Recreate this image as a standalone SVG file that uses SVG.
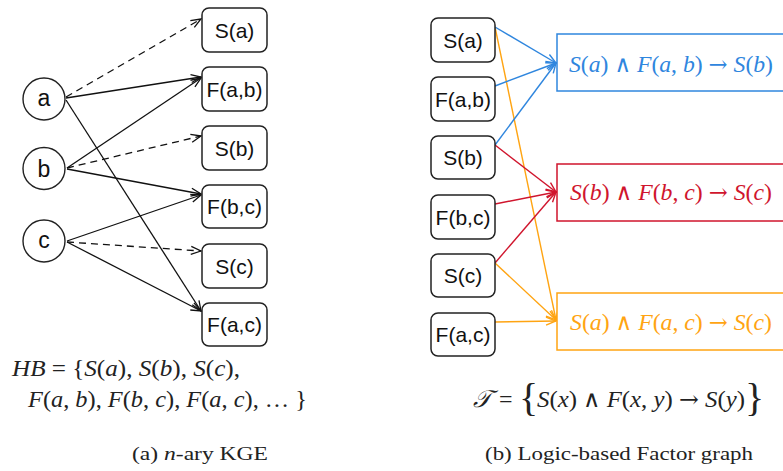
<svg xmlns="http://www.w3.org/2000/svg" width="783" height="471" viewBox="0 0 783 471">
<style>
.node rect{fill:#fff;stroke:#222;stroke-width:1.5}
.node circle{fill:#fff;stroke:#222;stroke-width:1.4}
.lbl{font-family:"Liberation Sans",Arial,sans-serif;font-size:21px;fill:#111;text-anchor:middle}
.math{font-family:"Liberation Serif","Times New Roman",serif;font-size:24px}
.it{font-style:italic}
.sym{font-family:"DejaVu Serif","DejaVu Sans",serif;font-style:normal;font-size:23px}
.cap{font-family:"Liberation Serif","Times New Roman",serif;font-size:18px;fill:#222}
.k{stroke:#111;stroke-width:1.3;fill:none}
.dash{stroke-dasharray:7,5}
.blue{stroke:#2f86de;stroke-width:1.4;fill:none}
.red{stroke:#d0152d;stroke-width:1.4;fill:none}
.orange{stroke:#ffa412;stroke-width:1.4;fill:none}
</style>
<defs>
<marker id="ak" markerWidth="12" markerHeight="10" refX="11" refY="5" orient="auto" markerUnits="userSpaceOnUse" viewBox="0 0 12 10"><path d="M1,1 L11,5 L1,9" fill="none" stroke="#111" stroke-width="1.3"/></marker>
<marker id="ab" markerWidth="12" markerHeight="10" refX="11" refY="5" orient="auto" markerUnits="userSpaceOnUse" viewBox="0 0 12 10"><path d="M1,1 L11,5 L1,9" fill="none" stroke="#2f86de" stroke-width="1.4"/></marker>
<marker id="ar" markerWidth="12" markerHeight="10" refX="11" refY="5" orient="auto" markerUnits="userSpaceOnUse" viewBox="0 0 12 10"><path d="M1,1 L11,5 L1,9" fill="none" stroke="#d0152d" stroke-width="1.4"/></marker>
<marker id="ao" markerWidth="12" markerHeight="10" refX="11" refY="5" orient="auto" markerUnits="userSpaceOnUse" viewBox="0 0 12 10"><path d="M1,1 L11,5 L1,9" fill="none" stroke="#ffa412" stroke-width="1.4"/></marker>
</defs>
<rect width="783" height="471" fill="#fff"/>

<g id="connectors">
  <line class="k dash" x1="66" y1="97" x2="201" y2="19" marker-end="url(#ak)"/>
  <line class="k" x1="66" y1="98" x2="201" y2="77" marker-end="url(#ak)"/>
  <line class="k" x1="66" y1="100" x2="201" y2="311" marker-end="url(#ak)"/>
  <line class="k" x1="67" y1="168" x2="201" y2="78" marker-end="url(#ak)"/>
  <line class="k dash" x1="67" y1="168" x2="201" y2="136" marker-end="url(#ak)"/>
  <line class="k" x1="67" y1="169" x2="201" y2="194" marker-end="url(#ak)"/>
  <line class="k" x1="67" y1="241" x2="201" y2="195" marker-end="url(#ak)"/>
  <line class="k dash" x1="67" y1="242" x2="201" y2="251" marker-end="url(#ak)"/>
  <line class="k" x1="67" y1="242" x2="201" y2="311" marker-end="url(#ak)"/>

  <line class="orange" x1="495" y1="27" x2="556" y2="320" marker-end="url(#ao)"/>
  <line class="blue" x1="495" y1="27" x2="556" y2="63" marker-end="url(#ab)"/>
  <line class="blue" x1="495" y1="86" x2="556" y2="63" marker-end="url(#ab)"/>
  <line class="blue" x1="495" y1="145" x2="556" y2="63" marker-end="url(#ab)"/>
  <line class="red" x1="495" y1="145" x2="556" y2="192" marker-end="url(#ar)"/>
  <line class="red" x1="495" y1="204" x2="556" y2="192" marker-end="url(#ar)"/>
  <line class="red" x1="495" y1="263" x2="556" y2="192" marker-end="url(#ar)"/>
  <line class="orange" x1="495" y1="263" x2="556" y2="320" marker-end="url(#ao)"/>
  <line class="orange" x1="495" y1="322" x2="556" y2="321" marker-end="url(#ao)"/>
</g>

<g id="node-a" class="node"><circle cx="44" cy="99" r="21"/><text class="lbl" x="44" y="106" style="font-size:23px">a</text></g>
<g id="node-b" class="node"><circle cx="44" cy="168.5" r="21"/><text class="lbl" x="44" y="176.5" style="font-size:23px">b</text></g>
<g id="node-c" class="node"><circle cx="44" cy="241" r="21"/><text class="lbl" x="44" y="248" style="font-size:23px">c</text></g>

<g id="l-Sa" class="node"><rect x="202" y="8" width="65" height="44" rx="7"/><text class="lbl" x="234.5" y="37.5">S(a)</text></g>
<g id="l-Fab" class="node"><rect x="202" y="67" width="65" height="44" rx="7"/><text class="lbl" x="234.5" y="96.5">F(a,b)</text></g>
<g id="l-Sb" class="node"><rect x="202" y="126" width="65" height="44" rx="7"/><text class="lbl" x="234.5" y="155.5">S(b)</text></g>
<g id="l-Fbc" class="node"><rect x="202" y="185" width="65" height="43" rx="7"/><text class="lbl" x="234.5" y="214">F(b,c)</text></g>
<g id="l-Sc" class="node"><rect x="202" y="244" width="65" height="44" rx="7"/><text class="lbl" x="234.5" y="273.5">S(c)</text></g>
<g id="l-Fac" class="node"><rect x="202" y="303" width="65" height="43" rx="7"/><text class="lbl" x="234.5" y="332">F(a,c)</text></g>

<g id="r-Sa" class="node"><rect x="431" y="18" width="64" height="44" rx="7"/><text class="lbl" x="463" y="47.5">S(a)</text></g>
<g id="r-Fab" class="node"><rect x="431" y="77" width="64" height="44" rx="7"/><text class="lbl" x="463" y="106.5">F(a,b)</text></g>
<g id="r-Sb" class="node"><rect x="431" y="136" width="64" height="43" rx="7"/><text class="lbl" x="463" y="165">S(b)</text></g>
<g id="r-Fbc" class="node"><rect x="431" y="195" width="64" height="44" rx="7"/><text class="lbl" x="463" y="224.5">F(b,c)</text></g>
<g id="r-Sc" class="node"><rect x="431" y="254" width="64" height="43" rx="7"/><text class="lbl" x="463" y="283">S(c)</text></g>
<g id="r-Fac" class="node"><rect x="431" y="313" width="64" height="43" rx="7"/><text class="lbl" x="463" y="342">F(a,c)</text></g>

<g id="f-blue"><rect x="557" y="34" width="240" height="57" fill="#fff" stroke="#2f86de" stroke-width="1.5"/>
<text class="math" x="569" y="72" fill="#2f86de" textLength="204" lengthAdjust="spacingAndGlyphs"><tspan class="it">S</tspan>(<tspan class="it">a</tspan>) <tspan class="sym">∧</tspan> <tspan class="it">F</tspan>(<tspan class="it">a</tspan>, <tspan class="it">b</tspan>) <tspan class="sym">→</tspan> <tspan class="it">S</tspan>(<tspan class="it">b</tspan>)</text></g>
<g id="f-red"><rect x="557" y="164" width="240" height="57" fill="#fff" stroke="#d0152d" stroke-width="1.5"/>
<text class="math" x="570" y="200" fill="#d0152d" textLength="202" lengthAdjust="spacingAndGlyphs"><tspan class="it">S</tspan>(<tspan class="it">b</tspan>) <tspan class="sym">∧</tspan> <tspan class="it">F</tspan>(<tspan class="it">b</tspan>, <tspan class="it">c</tspan>) <tspan class="sym">→</tspan> <tspan class="it">S</tspan>(<tspan class="it">c</tspan>)</text></g>
<g id="f-orange"><rect x="557" y="293" width="240" height="57" fill="#fff" stroke="#ffa412" stroke-width="1.5"/>
<text class="math" x="570" y="330" fill="#ffa412" textLength="202" lengthAdjust="spacingAndGlyphs"><tspan class="it">S</tspan>(<tspan class="it">a</tspan>) <tspan class="sym">∧</tspan> <tspan class="it">F</tspan>(<tspan class="it">a</tspan>, <tspan class="it">c</tspan>) <tspan class="sym">→</tspan> <tspan class="it">S</tspan>(<tspan class="it">c</tspan>)</text></g>

<g id="hb" fill="#222">
<text class="math" x="12" y="376" textLength="228" lengthAdjust="spacingAndGlyphs"><tspan class="it">HB</tspan> = {<tspan class="it">S</tspan>(<tspan class="it">a</tspan>),  <tspan class="it">S</tspan>(<tspan class="it">b</tspan>), <tspan class="it">S</tspan>(<tspan class="it">c</tspan>),</text>
<text class="math" x="28" y="407" textLength="279" lengthAdjust="spacingAndGlyphs"><tspan class="it">F</tspan>(<tspan class="it">a</tspan>, <tspan class="it">b</tspan>),  <tspan class="it">F</tspan>(<tspan class="it">b</tspan>, <tspan class="it">c</tspan>),  <tspan class="it">F</tspan>(<tspan class="it">a</tspan>, <tspan class="it">c</tspan>),   … }</text>
</g>

<g id="tformula" fill="#222">
<text class="math it" x="473" y="407">𝒯</text>
<text class="math" x="499" y="407">=</text>
<text class="math" x="519" y="411" style="font-size:40px">{</text>
<text class="math" x="537" y="407" textLength="208" lengthAdjust="spacingAndGlyphs"><tspan class="it">S</tspan>(<tspan class="it">x</tspan>) <tspan class="sym">∧</tspan> <tspan class="it">F</tspan>(<tspan class="it">x</tspan>, <tspan class="it">y</tspan>) <tspan class="sym">→</tspan> <tspan class="it">S</tspan>(<tspan class="it">y</tspan>)</text>
<text class="math" x="745" y="411" style="font-size:40px">}</text>
</g>

<text class="cap" x="132" y="460" textLength="136" lengthAdjust="spacingAndGlyphs">(a) <tspan font-style="italic">n</tspan>-ary KGE</text>
<text class="cap" x="485" y="460" textLength="268" lengthAdjust="spacingAndGlyphs">(b) Logic-based Factor graph</text>
</svg>
